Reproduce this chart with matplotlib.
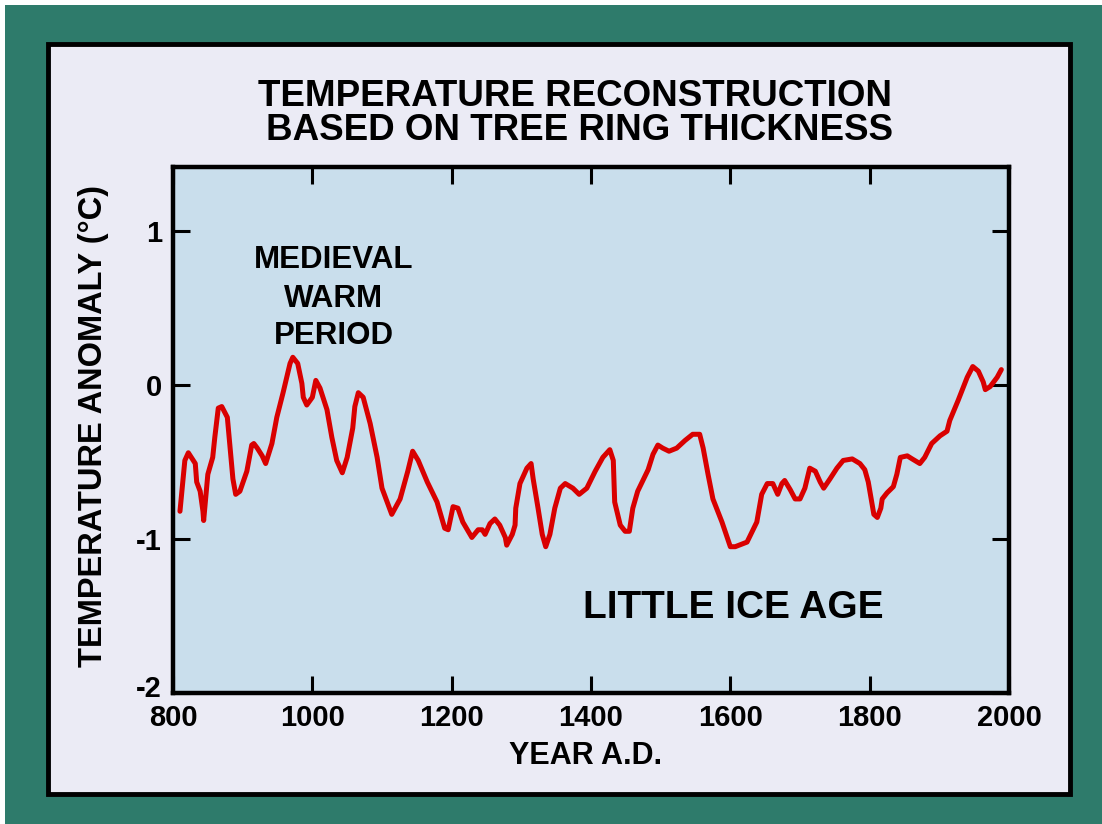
import matplotlib
matplotlib.use("Agg")
import matplotlib.pyplot as plt
from matplotlib.patches import Rectangle
from matplotlib.transforms import ScaledTranslation

# Reconstructed temperature anomaly (deg C) by year A.D.
years = [810, 817, 822, 832, 834, 839, 843, 844, 850, 857, 860, 865, 870, 878, 882,
         886, 890, 896, 906, 913, 916, 921, 928, 933, 942, 949, 958, 968, 972, 979,
         985, 987, 992, 1000, 1005, 1011, 1021, 1028, 1035, 1043, 1050, 1058, 1061,
         1066, 1073, 1083, 1093, 1100, 1114, 1126, 1137, 1144, 1152, 1165, 1179, 1190,
         1195, 1202, 1209, 1216, 1229, 1238, 1244, 1248, 1255, 1262, 1269, 1277, 1279,
         1287, 1291, 1292, 1298, 1308, 1314, 1317, 1324, 1330, 1335, 1341, 1348, 1356,
         1363, 1374, 1383, 1394, 1406, 1417, 1427, 1432, 1434, 1442, 1449, 1455, 1460,
         1467, 1482, 1489, 1496, 1503, 1512, 1523, 1535, 1546, 1556, 1561, 1568, 1575,
         1588, 1600, 1607, 1624, 1638, 1645, 1653, 1661, 1668, 1674, 1678, 1686, 1693,
         1700, 1707, 1714, 1722, 1729, 1734, 1743, 1753, 1762, 1775, 1786, 1793, 1798,
         1803, 1806, 1811, 1816, 1818, 1825, 1834, 1839, 1844, 1854, 1861, 1872, 1879,
         1889, 1901, 1911, 1915, 1927, 1940, 1948, 1956, 1963, 1966, 1973, 1983, 1989]
anomaly = [-0.82, -0.49, -0.44, -0.51, -0.63, -0.69, -0.82, -0.88, -0.58, -0.47, -0.34,
           -0.15, -0.14, -0.21, -0.41, -0.61, -0.71, -0.69, -0.56, -0.39, -0.38, -0.41,
           -0.46, -0.51, -0.38, -0.21, -0.05, 0.14, 0.18, 0.14, 0.01, -0.08, -0.13,
           -0.08, 0.03, -0.02, -0.16, -0.34, -0.49, -0.57, -0.47, -0.28, -0.14, -0.05,
           -0.08, -0.25, -0.47, -0.67, -0.84, -0.74, -0.56, -0.43, -0.49, -0.63, -0.76,
           -0.93, -0.94, -0.79, -0.80, -0.89, -0.99, -0.94, -0.94, -0.97, -0.90, -0.87,
           -0.91, -0.99, -1.04, -0.97, -0.91, -0.80, -0.64, -0.54, -0.51, -0.61, -0.80,
           -0.97, -1.05, -0.97, -0.80, -0.67, -0.64, -0.67, -0.71, -0.67, -0.56, -0.47,
           -0.42, -0.49, -0.76, -0.91, -0.95, -0.95, -0.80, -0.69, -0.55, -0.45, -0.39,
           -0.41, -0.43, -0.41, -0.36, -0.32, -0.32, -0.41, -0.58, -0.74, -0.89, -1.05,
           -1.05, -1.02, -0.89, -0.71, -0.64, -0.64, -0.71, -0.64, -0.62, -0.68, -0.74,
           -0.74, -0.67, -0.54, -0.56, -0.63, -0.67, -0.61, -0.54, -0.49, -0.48, -0.51,
           -0.55, -0.63, -0.76, -0.84, -0.86, -0.80, -0.74, -0.70, -0.66, -0.58, -0.47,
           -0.46, -0.48, -0.51, -0.47, -0.38, -0.33, -0.30, -0.23, -0.10, 0.05, 0.12,
           0.09, 0.02, -0.03, -0.01, 0.05, 0.10]

x_ticks = [800, 1000, 1200, 1400, 1600, 1800, 2000]
y_ticks = [-2, -1, 0, 1]

title_lines = ["TEMPERATURE RECONSTRUCTION", "BASED ON TREE RING THICKNESS"]
warm_lines = ["MEDIEVAL", "WARM", "PERIOD"]
ice_label = "LITTLE ICE AGE"
x_label = "YEAR A.D."
y_label = "TEMPERATURE ANOMALY (°C)"

plt.rcParams["font.family"] = ["Liberation Sans", "DejaVu Sans"]
plt.rcParams["font.weight"] = "bold"
plt.rcParams["axes.unicode_minus"] = False

W, H = 1102, 824
fig = plt.figure(figsize=(W / 100, H / 100), dpi=100, facecolor="white")


def fx(px):
    return px / W


def fy(py):
    return 1 - py / H


# green board and the framed light panel
fig.patches.append(Rectangle((fx(5), 0), 1 - fx(5), fy(5), transform=fig.transFigure,
                             facecolor="#2E7B6B", edgecolor="none", zorder=-3))
fig.patches.append(Rectangle((fx(47.5), fy(794)), fx(1070) - fx(47.5), fy(44) - fy(794),
                             transform=fig.transFigure, facecolor="#EBEBF5",
                             edgecolor="black", linewidth=3.5, zorder=-2))

ax = fig.add_axes([fx(173), fy(693), fx(1009) - fx(173), fy(167) - fy(693)])
ax.set_facecolor("#C9DEEC")
ax.plot(years, anomaly, color="#D90000", lw=3.6, solid_joinstyle="round",
        solid_capstyle="round")

ax.set_xlim(800, 2000)
ax.set_ylim(-2.0, 1.4156)
ax.set_xticks(x_ticks)
ax.set_yticks(y_ticks)
ax.set_xticklabels([str(v) for v in x_ticks])
ax.set_yticklabels([str(v) for v in y_ticks])
ax.tick_params(direction="in", length=12, width=2.2, top=True, right=True,
               labelsize=21, pad=8, colors="black")
for s in ax.spines.values():
    s.set_linewidth(3.2)
    s.set_color("black")

# lift the bottom y label clear of the first year label
low = ax.yaxis.get_major_ticks()[0].label1
low.set_transform(low.get_transform() + ScaledTranslation(0, 7 / 100, fig.dpi_scale_trans))

fig.text(fx(575), fy(96), title_lines[0], ha="center", va="center",
         fontsize=26.5, fontweight="bold")
fig.text(fx(580), fy(131), title_lines[1], ha="center", va="center",
         fontsize=26.5, fontweight="bold")

for line, py in zip(warm_lines, [260, 299, 336]):
    fig.text(fx(334), fy(py), line, ha="center", va="center", fontsize=22.5,
             fontweight="bold")

fig.text(fx(733), fy(608), ice_label, ha="center", va="center", fontsize=28,
         fontweight="bold")
fig.text(fx(586), fy(756), x_label, ha="center", va="center", fontsize=22,
         fontweight="bold")
fig.text(fx(94), fy(426), y_label, ha="center", va="center", rotation=90,
         fontsize=23.5, fontweight="bold")

fig.savefig("out.png", dpi=100, facecolor="white")
